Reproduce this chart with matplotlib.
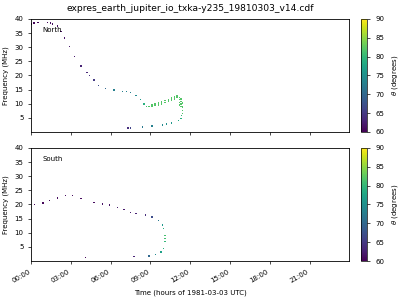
import numpy as np
import pandas as pd
import matplotlib
matplotlib.use("Agg")
import matplotlib.pyplot as plt
import matplotlib.dates as mdates

# North hemisphere emission: time (h), frequency (MHz), beaming angle theta (deg)
north_t = [0.0, 0.2, 0.5, 1.25, 1.45, 1.6, 2.0, 2.25, 2.5, 2.9, 3.25, 3.75, 4.2, 4.4, 4.75,
           5.1, 5.6, 6.25, 6.9, 7.2, 7.5, 7.9, 8.25, 8.5, 8.7,
           8.9, 9.1, 9.35, 9.6, 9.85, 10.1, 10.35, 10.6, 10.8, 11.0,
           9.1, 9.35, 9.6, 9.85, 10.1, 10.35, 10.6, 10.8, 11.0,
           11.2, 11.2, 11.2, 11.2, 11.3, 11.3, 11.3, 11.3, 11.4, 11.4, 11.4, 11.4, 11.35, 11.3,
           11.1, 10.6, 10.2, 9.9, 9.1, 8.4, 7.5, 7.3]
north_f = [38.2, 38.5, 38.8, 38.8, 38.6, 38.2, 37.5, 35.6, 33.2, 30.3, 26.8, 23.3, 21.0, 20.0, 18.4,
           16.5, 15.4, 14.8, 14.4, 14.3, 14.0, 13.0, 11.6, 9.9, 9.1,
           9.0, 9.1, 9.3, 9.5, 9.9, 10.4, 10.9, 11.3, 11.7, 12.1,
           9.6, 9.9, 10.2, 10.6, 11.2, 11.6, 12.0, 12.4, 12.7,
           12.3, 11.4, 10.5, 9.6, 11.7, 10.8, 9.9, 9.0, 10.3, 8.8, 7.6, 6.5, 5.8, 4.8,
           4.0, 3.2, 2.8, 2.5, 2.1, 1.7, 1.4, 1.4]
north_theta = [60.5, 60.5, 60.5, 60.5, 61, 61, 61, 61.5, 61.5, 62, 62, 63, 63.5, 64, 65,
               67, 70, 73, 73, 73, 73, 74, 76, 79, 81,
               82, 82, 82, 82, 82, 82, 82, 82, 82, 82,
               82, 82, 82, 82, 82, 82, 82, 82, 82,
               82, 82, 82, 82, 82, 82, 82, 82, 82, 82, 82, 82, 80, 79,
               78, 76, 75, 74, 73, 72, 66, 64]

# South hemisphere emission
south_t = [0.25, 0.9, 1.4, 2.0, 2.6, 3.1, 3.75, 4.75, 5.4, 5.9, 6.5, 7.0, 7.5, 7.9,
           8.6, 9.1, 9.6, 9.9, 10.0, 10.1, 10.1, 10.1, 10.0, 9.8, 9.4, 8.9, 7.75, 4.1]
south_f = [19.9, 20.5, 21.3, 22.3, 23.1, 23.1, 22.1, 20.7, 20.2, 19.8, 19.0, 18.2, 17.2, 16.9,
           16.3, 15.5, 14.3, 12.8, 11.4, 9.1, 8.0, 6.8, 4.4, 3.2, 2.3, 1.8, 1.5, 1.3]
south_theta = [60.5, 60.5, 60.5, 61, 61, 61, 61, 61, 61.5, 61.5, 62, 62, 62.5, 63,
               64, 67, 72, 76, 79, 81, 81, 80, 79, 77, 74, 70, 63, 60.5]

day = pd.Timestamp("1981-03-03")
hour_ticks = list(range(0, 24, 3))

plt.rcParams["font.family"] = ["DejaVu Sans"]

fig = plt.figure(figsize=(4, 3), dpi=100)
ax1 = fig.add_axes([0.078, 0.56, 0.795, 0.377])
ax2 = fig.add_axes([0.078, 0.13, 0.795, 0.377])
cax1 = fig.add_axes([0.902, 0.56, 0.0165, 0.377])
cax2 = fig.add_axes([0.902, 0.13, 0.0165, 0.377])


def to_dates(hours):
    return [day + pd.Timedelta(hours=h) for h in hours]


panels = [(ax1, cax1, north_t, north_f, north_theta, "North"),
          (ax2, cax2, south_t, south_f, south_theta, "South")]

for ax, cax, t, f, th, name in panels:
    sc = ax.scatter(to_dates(t), f, c=th, cmap="viridis", vmin=60, vmax=90,
                    s=1.0, marker="s", linewidths=0)
    ax.set_xlim(day, day + pd.Timedelta(hours=23.99))
    ax.set_ylim(0, 40)
    ax.set_yticks([5, 10, 15, 20, 25, 30, 35, 40])
    ax.set_xticks(to_dates(hour_ticks))
    ax.xaxis.set_major_formatter(mdates.DateFormatter("%H:%M"))
    ax.tick_params(labelsize=5, length=2, width=0.5)
    ax.set_ylabel("Frequency (MHz)", fontsize=5)
    ax.text(0.035, 0.88, name, transform=ax.transAxes, fontsize=5)
    for s in ax.spines.values():
        s.set_linewidth(0.6)
    cb = fig.colorbar(sc, cax=cax)
    cb.set_ticks([60, 65, 70, 75, 80, 85, 90])
    cb.ax.tick_params(labelsize=5, length=2, width=0.5)
    cb.outline.set_linewidth(0.5)
    cb.set_label(r"$\theta$ (degrees)", fontsize=5)

ax1.tick_params(labelbottom=False)
for lbl in ax2.get_xticklabels():
    lbl.set_rotation(30)
    lbl.set_ha("right")
ax2.set_xlabel("Time (hours of 1981-03-03 UTC)", fontsize=5)
ax1.set_title("expres_earth_jupiter_io_txka-y235_19810303_v14.cdf", fontsize=6.6)

fig.savefig("out.png", dpi=100)
